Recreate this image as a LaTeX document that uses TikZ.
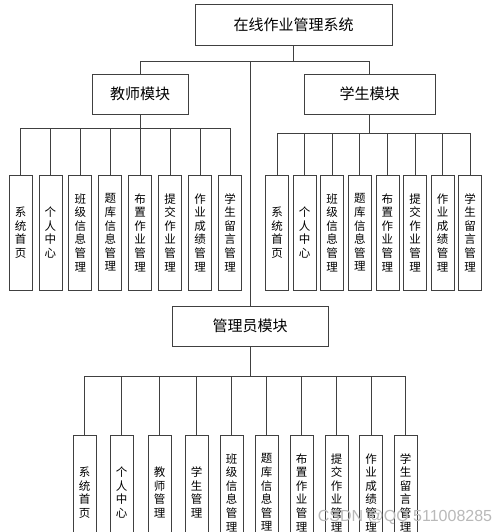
\documentclass[tikz,border=0pt]{standalone}
\usepackage{fontspec}
\setmainfont{Noto Sans CJK SC}
\newfontfamily\wmfont{Liberation Sans}
\begin{document}
\begin{tikzpicture}[x=1pt,y=-1pt,
  box/.style={draw=black!75, line width=0.8pt, rectangle, inner sep=0pt},
  modbox/.style={box, font=\fontsize{15}{18}\selectfont},
  leaf/.style={box, minimum width=23pt, minimum height=115pt, align=center, font=\fontsize{11.5}{13.6}\selectfont},
  wire/.style={draw=black!75, line width=0.8pt}]
\useasboundingbox (0,0) rectangle (500,532);
\clip (0,0) rectangle (500,532);
\fill[white] (0,0) rectangle (500,532);
\node[modbox, minimum width=197pt, minimum height=41pt] (sys) at (293.5,24.5) {在线作业管理系统};
\node[modbox, minimum width=96pt, minimum height=40pt] (tea) at (140,94) {教师模块};
\node[modbox, minimum width=131pt, minimum height=40pt] (stu) at (369.5,94) {学生模块};
\node[modbox, minimum width=156pt, minimum height=40pt] (adm) at (250,326) {管理员模块};
% teacher leaves
\foreach \t [count=\i] in {{系\\统\\首\\页},{个\\人\\中\\心},{班\\级\\信\\息\\管\\理},{题\\库\\信\\息\\管\\理},{布\\置\\作\\业\\管\\理},{提\\交\\作\\业\\管\\理},{作\\业\\成\\绩\\管\\理},{学\\生\\留\\言\\管\\理}}
  \node[leaf] (t\i) at ({20.5+29.93*(\i-1)},232.5) {\t};
% student leaves
\foreach \t [count=\i] in {{系\\统\\首\\页},{个\\人\\中\\心},{班\\级\\信\\息\\管\\理},{题\\库\\信\\息\\管\\理},{布\\置\\作\\业\\管\\理},{提\\交\\作\\业\\管\\理},{作\\业\\成\\绩\\管\\理},{学\\生\\留\\言\\管\\理}}
  \node[leaf] (s\i) at ({277+27.6*(\i-1)},232.5) {\t};
% admin leaves
\foreach \t/\x [count=\i] in {{系\\统\\首\\页}/84.5,{个\\人\\中\\心}/121.5,{教\\师\\管\\理}/159.5,{学\\生\\管\\理}/196.5,{班\\级\\信\\息\\管\\理}/231.5,{题\\库\\信\\息\\管\\理}/266.5,{布\\置\\作\\业\\管\\理}/301.5,{提\\交\\作\\业\\管\\理}/336.5,{作\\业\\成\\绩\\管\\理}/371,{学\\生\\留\\言\\管\\理}/405.5}
  \node[leaf] (a\i) at (\x,492.5) {\t};
% top level wiring
\coordinate (b0) at (0,61);
\draw[wire] (sys.south) -- (sys.south |- b0);
\draw[wire] (tea.north) -- (tea.north |- b0) -- (stu.north |- b0) -- (stu.north);
\draw[wire] (adm.north) -- (adm.north |- b0);
% teacher wiring
\coordinate (b1) at (0,128);
\draw[wire] (tea.south) -- (tea.south |- b1);
\draw[wire] (t1.north |- b1) -- (t8.north |- b1);
\foreach \i in {1,...,8} \draw[wire] (t\i.north) -- (t\i.north |- b1);
% student wiring
\coordinate (b2) at (0,133);
\draw[wire] (stu.south) -- (stu.south |- b2);
\draw[wire] (s1.north |- b2) -- (s8.north |- b2);
\foreach \i in {1,...,8} \draw[wire] (s\i.north) -- (s\i.north |- b2);
% admin wiring
\coordinate (b3) at (0,376);
\draw[wire] (adm.south) -- (adm.south |- b3);
\draw[wire] (a1.north |- b3) -- (a10.north |- b3);
\foreach \i in {1,...,10} \draw[wire] (a\i.north) -- (a\i.north |- b3);
% watermark
\node[text=gray!55, font=\wmfont\fontsize{16}{16}\selectfont] (wm) at (405,517) {CSDN @QQ 511008285};
\end{tikzpicture}
\end{document}
